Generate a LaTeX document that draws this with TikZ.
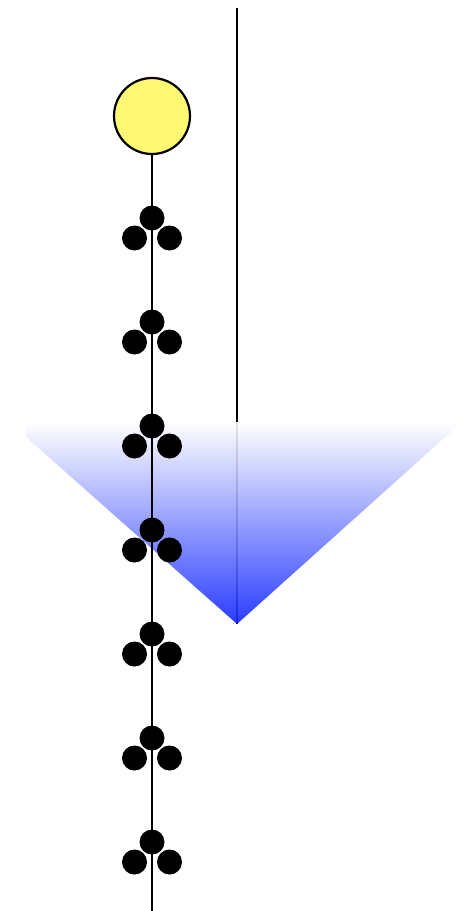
\documentclass[tikz,border=0pt]{standalone}
\begin{document}
\begin{tikzpicture}[x=1pt,y=-1pt,
  dotn/.style={circle,fill=black,inner sep=0pt,minimum size=25pt},
  sunn/.style={circle,draw=black,line width=2.2pt,fill=yellow!55,inner sep=0pt,minimum size=76pt},
  rod/.style={line width=2.4pt}]
\useasboundingbox (0,0) rectangle (471,911);
% right line
\coordinate (rtop) at (237,8);
\coordinate (apex) at (237,624);
\draw[rod] (rtop) -- (apex);
% triangle
\shade[top color=white, bottom color={rgb,255:red,20;green,40;blue,255}, fill opacity=0.9]
  (26,422) -- (462,422) -- (apex) -- (26,437) -- cycle;
% left line and sun
\node[sunn] (sun) at (152,116) {};
\coordinate (lbot) at (152,911);
\draw[rod] (sun.south) -- (lbot);
% clusters
\foreach \k in {0,...,6}{
  \pgfmathsetmacro{\yy}{218+104*\k}
  \node[dotn] (t\k) at (152,\yy) {};
  \node[dotn] (l\k) at (134.5,\yy+20) {};
  \node[dotn] (r\k) at (169.5,\yy+20) {};
}
\end{tikzpicture}
\end{document}
